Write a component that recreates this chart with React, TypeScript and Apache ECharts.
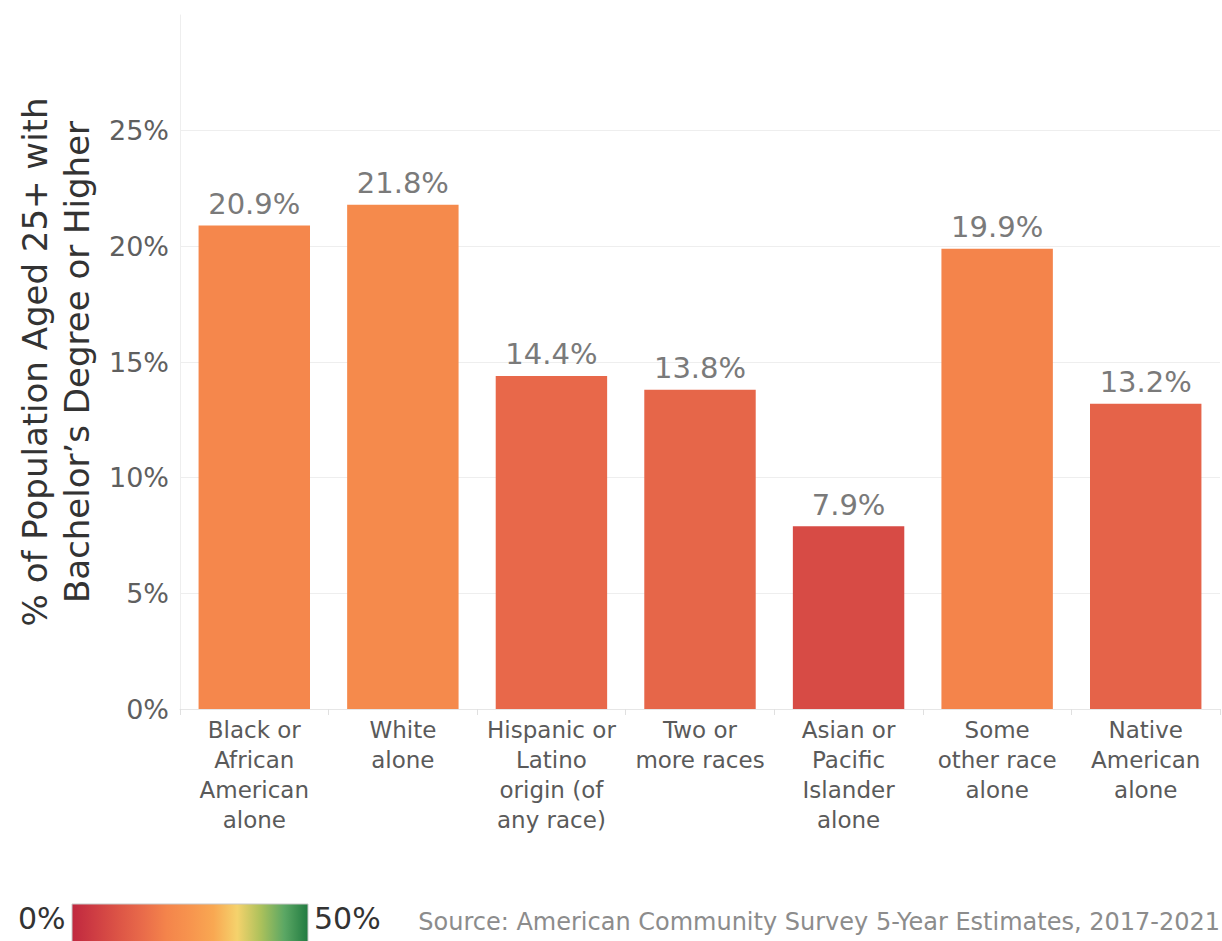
import React, { useEffect, useRef } from "react";
import * as echarts from "echarts";

const categories = [
  "Black or\nAfrican\nAmerican\nalone",
  "White\nalone",
  "Hispanic or\nLatino\norigin (of\nany race)",
  "Two or\nmore races",
  "Asian or\nPacific\nIslander\nalone",
  "Some\nother race\nalone",
  "Native\nAmerican\nalone",
];
const values = [20.9, 21.8, 14.4, 13.8, 7.9, 19.9, 13.2];
const scaleColors = [
  "#C0283F", "#CF3E43", "#DD5546", "#E96B4A", "#F4844B", "#F7944E",
  "#F9A852", "#F5D26C", "#ACC15B", "#5BA764", "#217B41",
];
const scaleMin = 0;
const scaleMax = 50;
const yTitle = "% of Population Aged 25+ with\nBachelor\u2019s Degree or Higher";
const sourceText = "Source: American Community Survey 5-Year Estimates, 2017-2021";

const FONT = "DejaVu Sans";

export default function App() {
  const ref = useRef<HTMLDivElement>(null);
  useEffect(() => {
    if (!ref.current) return;
    const chart = echarts.init(ref.current, null, { renderer: "svg" });
    const gridColors = ["#eeeeee", "#eeeeee", "#eeeeee", "#eeeeee", "#eeeeee", "#eeeeee", "rgba(0,0,0,0)"];
    chart.setOption({
      animation: false,
      backgroundColor: "#ffffff",
      grid: { left: 180, right: 2, top: 15, bottom: 232, containLabel: false, outerBoundsMode: "none" },
      visualMap: {
        show: false,
        type: "continuous",
        min: scaleMin,
        max: scaleMax,
        dimension: 1,
        seriesIndex: 0,
        inRange: { color: scaleColors },
      },
      xAxis: {
        type: "category",
        data: categories,
        axisLine: { show: true, lineStyle: { color: "#e6e6e6" } },
        axisTick: { show: true, length: 6, lineStyle: { color: "#e0e0e0" } },
        axisLabel: {
          interval: 0,
          margin: 6,
          fontFamily: FONT,
          fontSize: 23,
          lineHeight: 30,
          color: "#5a5a5a",
        },
      },
      yAxis: {
        type: "value",
        min: 0,
        max: 30,
        interval: 5,
        name: yTitle,
        nameLocation: "middle",
        nameGap: 80,
        nameTextStyle: {
          fontFamily: FONT,
          fontSize: 34,
          lineHeight: 42,
          color: "#333333",
        },
        axisLine: { show: true, lineStyle: { color: "#eeeeee" } },
        axisTick: { show: false },
        splitLine: { show: true, lineStyle: { color: gridColors, width: 1 } },
        axisLabel: {
          margin: 11,
          fontFamily: FONT,
          fontSize: 27,
          color: "#5f5f5f",
          formatter: (v: number) => (v >= 30 ? "" : v + "%"),
        },
      },
      series: [
        {
          type: "bar",
          data: values,
          barCategoryGap: "25%",
          label: {
            show: true,
            position: "top",
            distance: 7,
            fontFamily: FONT,
            fontSize: 29,
            color: "#7a7a7a",
            formatter: (p: any) => p.value.toFixed(1) + "%",
          },
        },
      ],
      graphic: [
        {
          type: "text",
          left: 18,
          top: 903,
          style: { text: "0%", fontFamily: FONT, fontSize: 30, fill: "#333333" },
        },
        {
          type: "rect",
          shape: { x: 72, y: 904, width: 236, height: 45 },
          style: {
            stroke: "#c8c8c8",
            lineWidth: 1,
            fill: new echarts.graphic.LinearGradient(
              0, 0, 1, 0,
              scaleColors.map((c, i) => ({ offset: i / (scaleColors.length - 1), color: c }))
            ),
          },
        },
        {
          type: "text",
          left: 314,
          top: 903,
          style: { text: "50%", fontFamily: FONT, fontSize: 30, fill: "#333333" },
        },
        {
          type: "text",
          right: 2,
          top: 910,
          style: { text: sourceText, fontFamily: FONT, fontSize: 24, fill: "#8c8c8c" },
        },
      ],
    });
    return () => chart.dispose();
  }, []);
  return (
    <div
      ref={ref}
      style={{ position: "fixed", left: 0, top: 0, width: 1222, height: 941, background: "#fff" }}
    />
  );
}
